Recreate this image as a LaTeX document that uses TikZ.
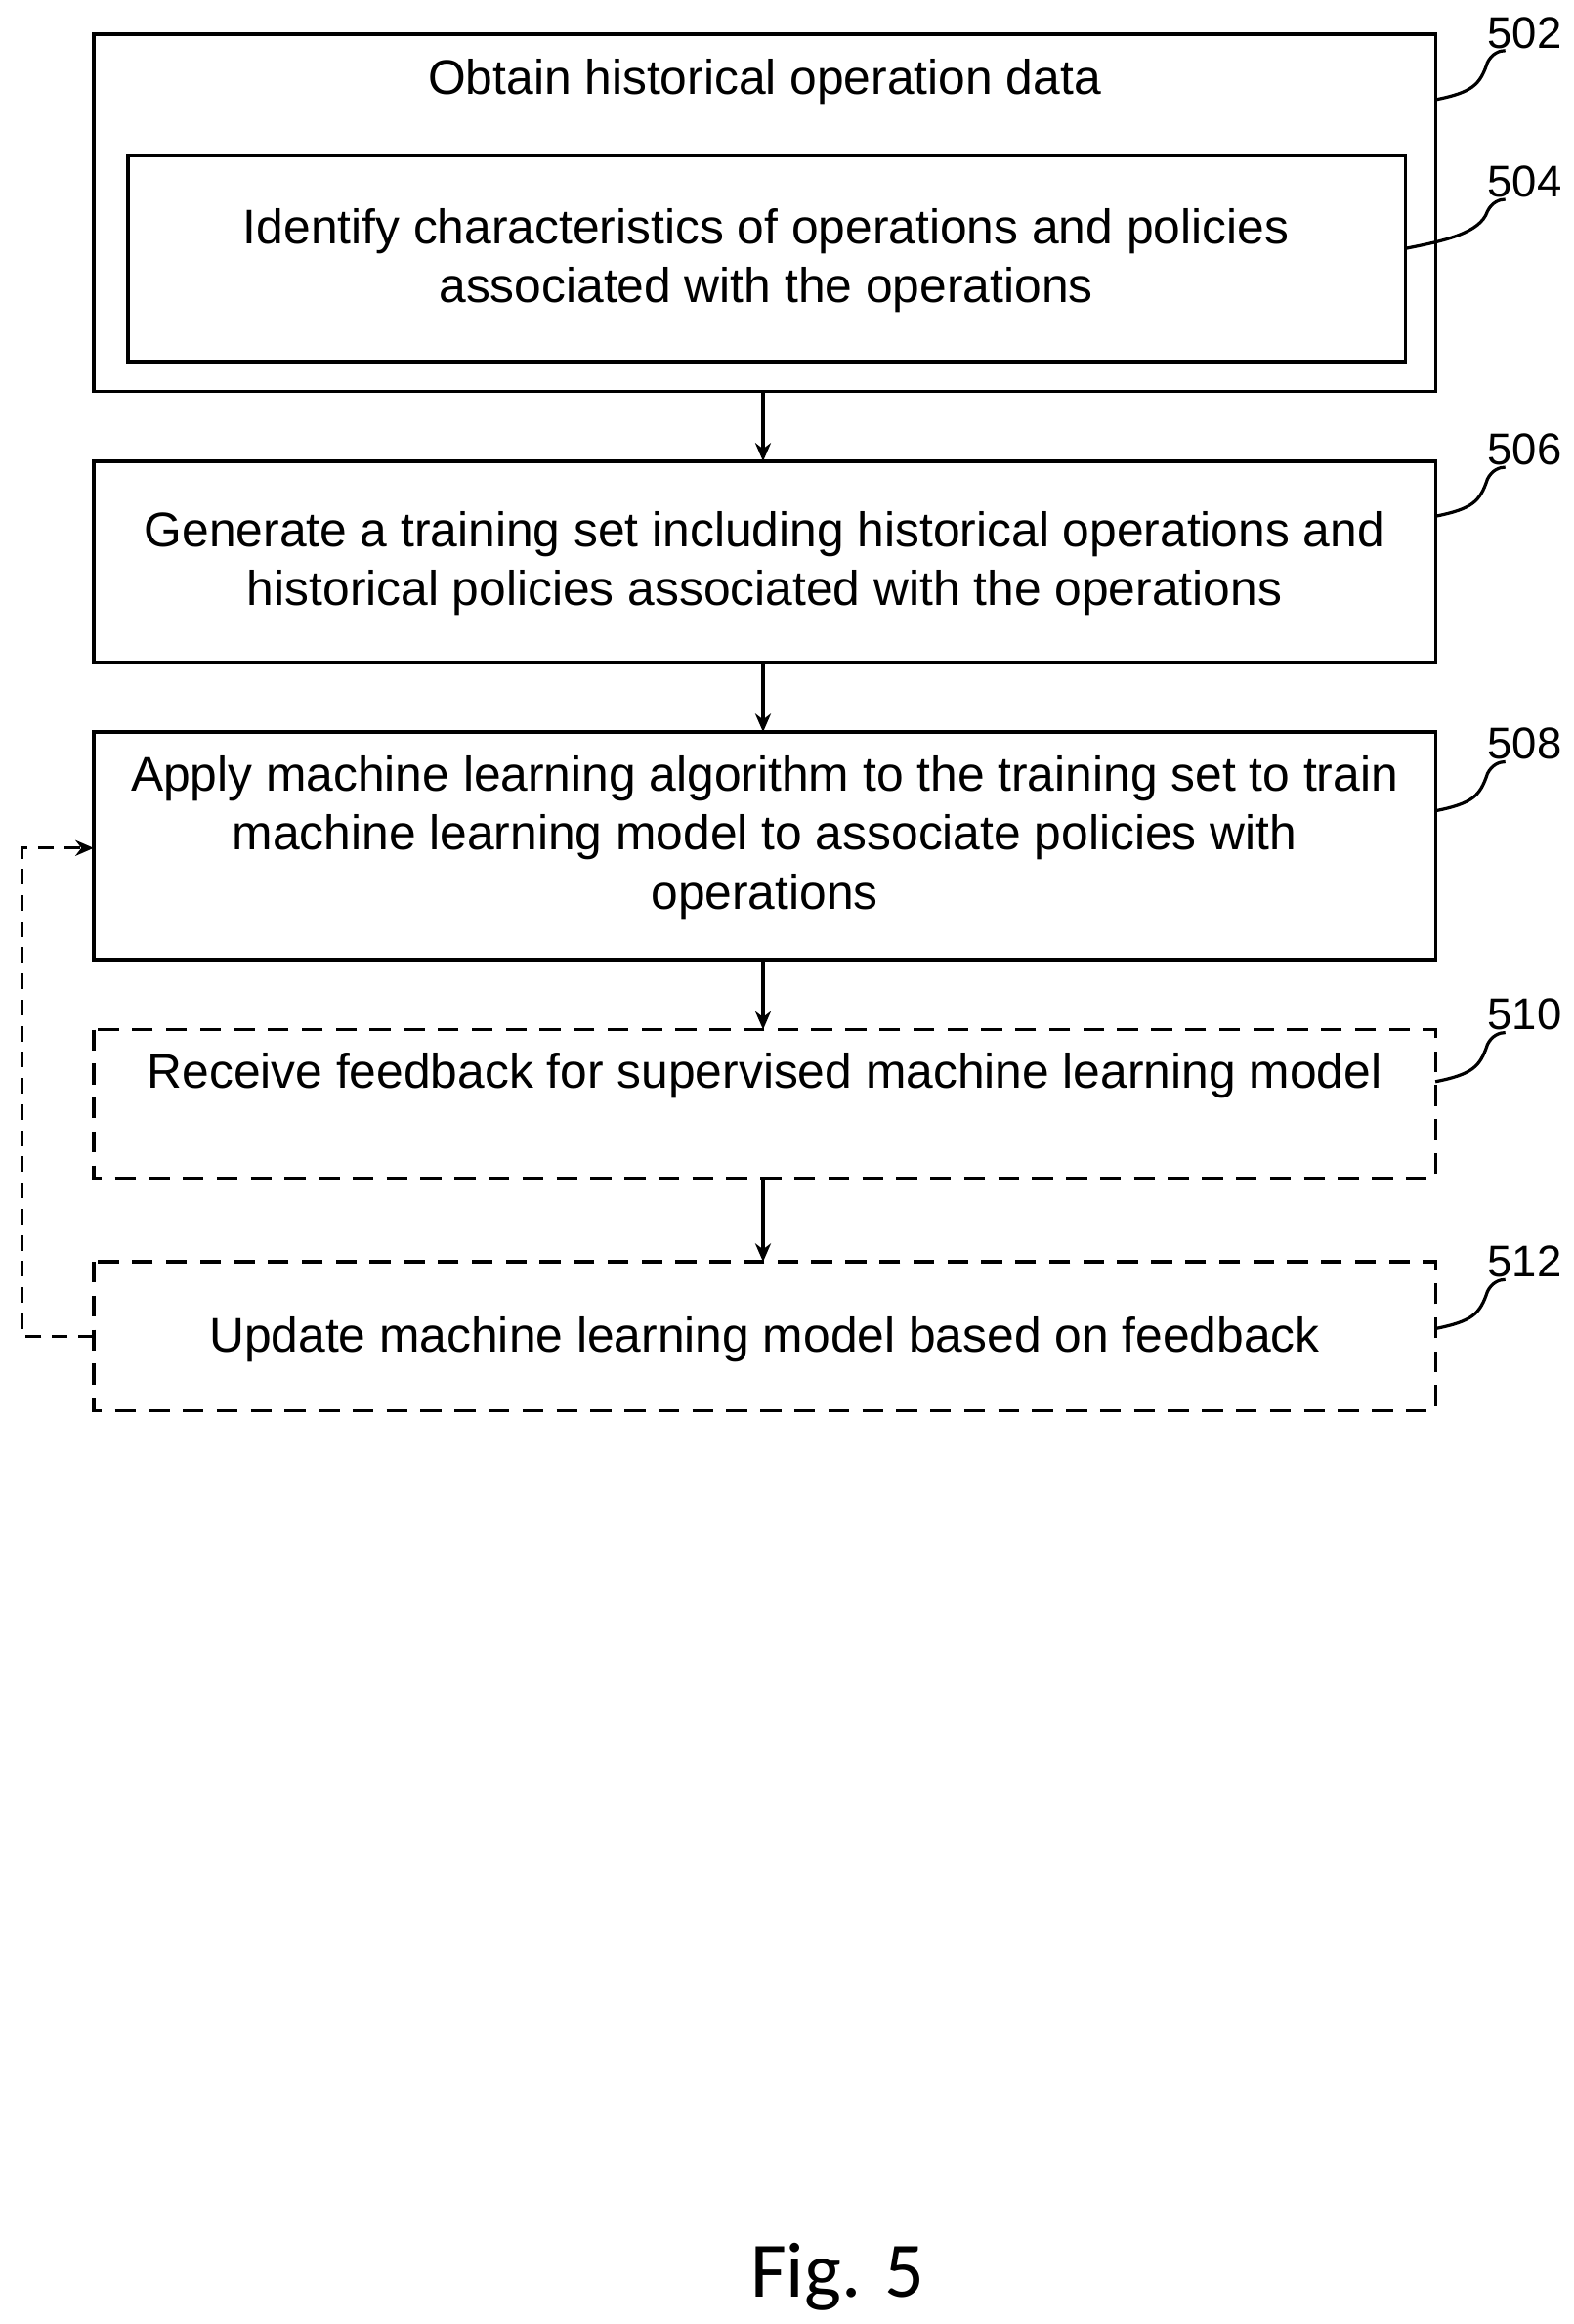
\documentclass[tikz,border=0pt]{standalone}
\usetikzlibrary{arrows.meta}
\usepackage{fontspec}
\setmainfont{Liberation Sans}
\newfontfamily\figfont{Carlito}
\begin{document}
\begin{tikzpicture}[x=0.02cm,y=-0.02cm,
  box/.style={draw,line width=1.2pt},
  dbox/.style={draw,line width=1.2pt,dash pattern=on 8pt off 5pt},
  txt/.style={font=\fontsize{18.6}{22.5}\selectfont,align=center},
  lab/.style={font=\fontsize{17}{20}\selectfont},
  lead/.style={line width=1.2pt},
  arr/.style={line width=1.2pt,-{Stealth[length=7pt,width=6pt]}}]
\useasboundingbox (0,0) rectangle (1058,1562);
% boxes
\draw[box] (63,23) rectangle (965,263);
\draw[box] (86,105) rectangle (945,243);
\draw[box] (63,310) rectangle (965,445);
\draw[box] (63,492) rectangle (965,645);
\draw[dbox] (63,692) rectangle (965,792);
\draw[dbox] (63,848) rectangle (965,948);
\node[txt] (t502) at (514,55) {Obtain historical operation data};
\node[txt] (t504) at (515,175) {Identify characteristics of operations and policies\\associated with the operations};
\node[txt] (t506) at (514,379) {Generate a training set including historical operations and\\historical policies associated with the operations};
\node[txt] (t508) at (514,563) {Apply machine learning algorithm to the training set to train\\machine learning model to associate policies with\\operations};
\node[txt] (t510) at (514,723) {Receive feedback for supervised machine learning model};
\node[txt] (t512) at (514,900) {Update machine learning model based on feedback};
% arrows
\draw[arr] (513,263) -- (513,310);
\draw[arr] (513,445) -- (513,492);
\draw[arr] (513,645) -- (513,692);
\draw[arr] (513,792) -- (513,848);
\draw[arr,dash pattern=on 6pt off 4pt] (63,898) -- (15,898) -- (15,570) -- (63,570);
% labels
\foreach \n/\y/\x in {502/22/965,504/122/945,506/302/965,508/500/965,510/682/965,512/848/965}{
  \node[lab] (l\n) at (1025,\y) {\n};
  \draw[lead] (\x,\y+45) .. controls (\x+25,\y+40) and (995,\y+35) .. (1000,\y+20) .. controls (1003,\y+14) and (1008,\y+12) .. (1012,\y+12);
}
\node[font=\figfont\fontsize{30}{34}\selectfont] (fig) at (563,1530) {Fig. 5};
\end{tikzpicture}
\end{document}
